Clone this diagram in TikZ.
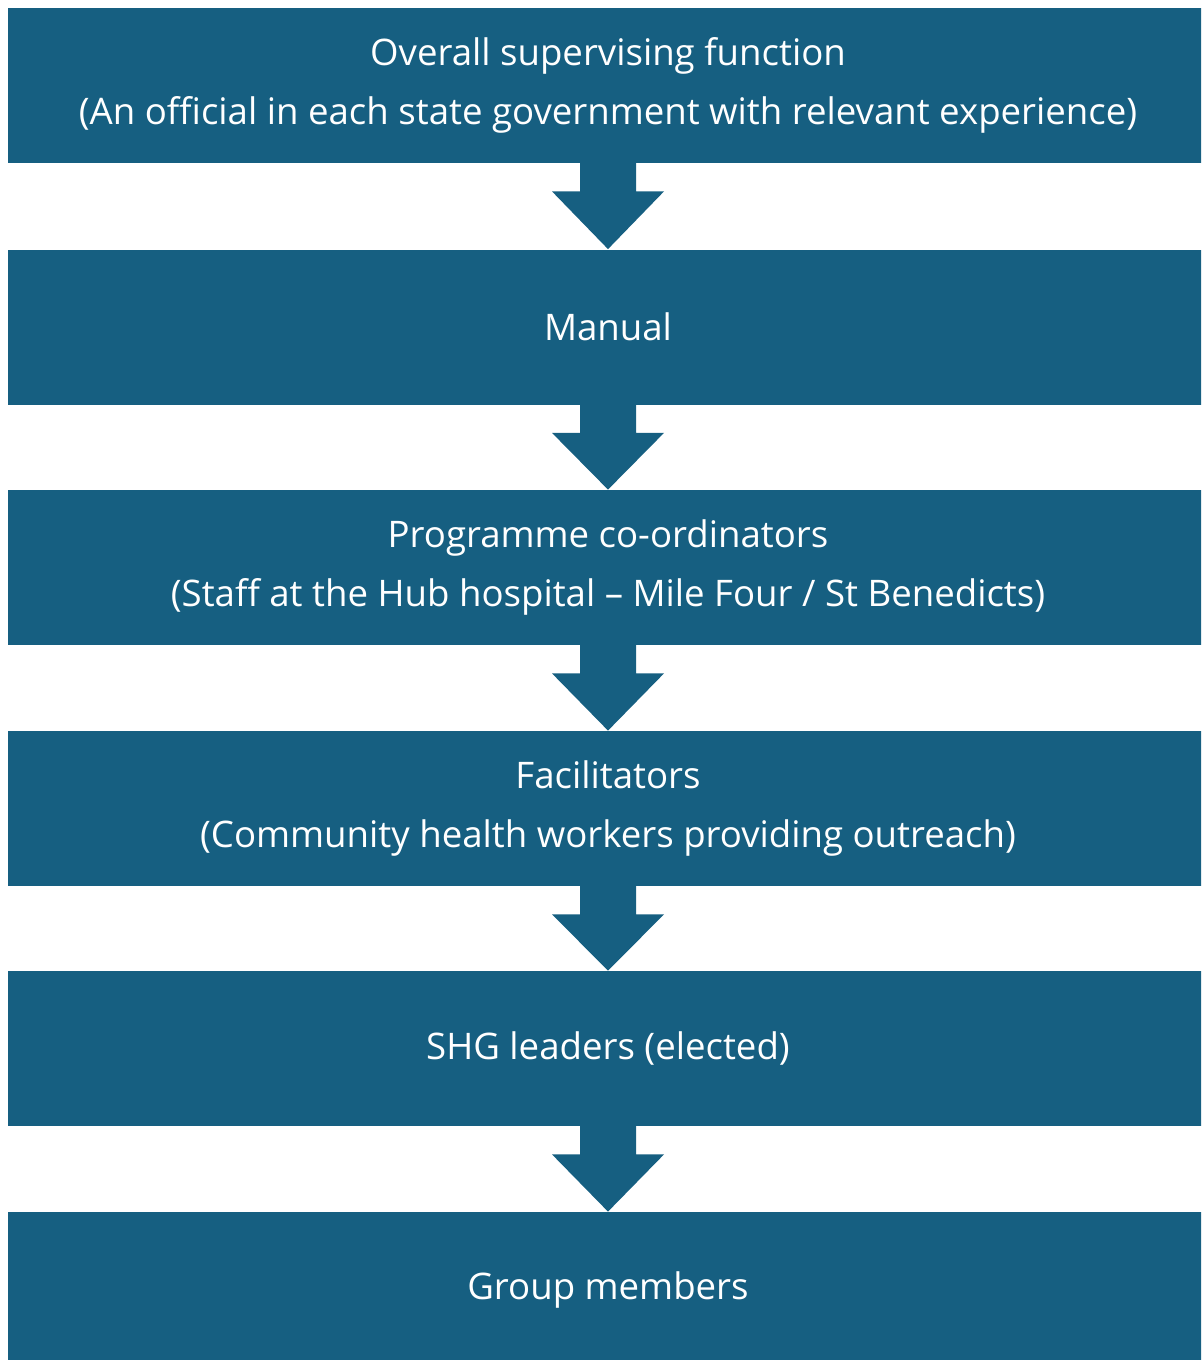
\documentclass[tikz,border=0pt]{standalone}
\usepackage{fontspec}
\setmainfont{Open Sans}
\definecolor{boxblue}{HTML}{165F81}
\begin{document}
\begin{tikzpicture}[x=0.5pt,y=-0.5pt,
  blk/.style={rectangle,fill=boxblue,draw=none,minimum width=600pt,minimum height=77.5pt,
    inner sep=0pt,text=white,align=center,font=\fontsize{18.3}{29.5}\selectfont},
  arr/.style={fill=boxblue,draw=none}]
\useasboundingbox (0,0) rectangle (1201,1360);
\clip (0,0) rectangle (1201,1360);
\node[blk] (b1) at (608,85.5) {Overall supervising function\\(An official in each state government with relevant experience)};
\node[blk] (b2) at (608,327) {Manual};
\node[blk] (b3) at (608,567.5) {Programme co-ordinators\\(Staff at the Hub hospital – Mile Four / St Benedicts)};
\node[blk] (b4) at (608,808.5) {Facilitators\\(Community health workers providing outreach)};
\node[blk] (b5) at (608,1048.5) {SHG leaders (elected)};
\node[blk] (b6) at (608,1289.5) {Group members};
\foreach \a/\b in {b1/b2,b2/b3,b3/b4,b4/b5,b5/b6}{
  \fill[arr] ([xshift=-14pt,yshift=1pt]\a.south) -- ([xshift=14pt,yshift=1pt]\a.south)
    -- ([xshift=14pt,yshift=-14pt]\a.south) -- ([xshift=28pt,yshift=-14pt]\a.south)
    -- (\b.north) -- ([xshift=-28pt,yshift=-14pt]\a.south) -- ([xshift=-14pt,yshift=-14pt]\a.south) -- cycle;
}
\end{tikzpicture}
\end{document}
